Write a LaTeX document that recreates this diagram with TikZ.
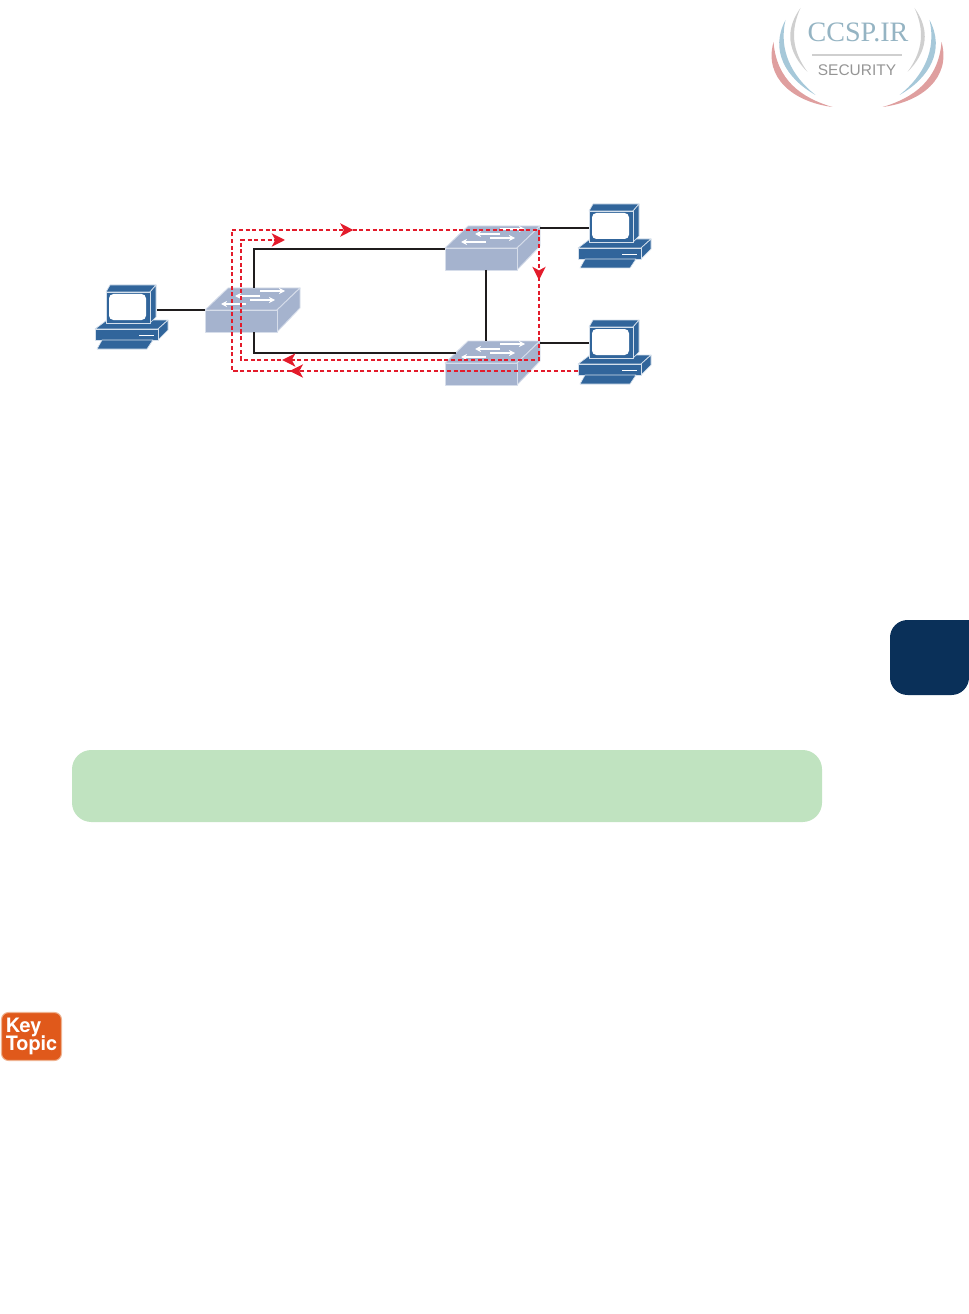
\documentclass[tikz,border=0pt]{standalone}
\usepackage{fontspec}
\setmainfont{Liberation Serif}
\setsansfont{TeX Gyre Heros}
\newfontfamily\logosans{Liberation Sans}
\usetikzlibrary{arrows.meta, decorations.markings}
\definecolor{pcblue}{HTML}{31659B}
\definecolor{pcedge}{HTML}{D5E0EC}
\definecolor{swfill}{HTML}{A5B3CE}
\definecolor{swedge}{HTML}{D6DDEA}
\definecolor{flowred}{HTML}{E31B2B}
\definecolor{linkblk}{HTML}{1F1C1D}
\definecolor{notegreen}{HTML}{C0E3C0}
\definecolor{tabnavy}{HTML}{0A3059}
\definecolor{keyorange}{HTML}{E0591B}
\definecolor{keyedge}{HTML}{EFB391}
\definecolor{logoblue}{HTML}{A6C8D9}
\definecolor{logored}{HTML}{DF9F9F}
\definecolor{logogray}{HTML}{CFCFCF}
\definecolor{logotext}{HTML}{959595}

\tikzset{
  pcshell/.style={fill=pcblue, draw=pcedge, line width=0.4pt, line join=round},
  swshell/.style={fill=swfill, draw=swedge, line width=0.5pt, line join=round},
  swarrow/.style={white, line width=0.7pt, -{Stealth[length=3.5pt, width=3.5pt]}},
  link/.style={linkblk, line width=1.1pt},
  flowline/.style={flowred, line width=1.2pt, dash pattern=on 2.3pt off 1.5pt},
  flowtip/.style={postaction={decorate, decoration={markings, mark=at position #1 with {\arrow{Stealth[length=7.5pt, width=7.5pt, inset=2pt]}}}}},
  pics/pcstation/.style={code={
    % Base and keyboard
    \draw[pcshell] (-11,37) -- (1,28) -- (62,28) -- (52,37) -- cycle;
    \draw[pcshell] (52,37) -- (62,28) -- (62,38) -- (52,48) -- cycle;
    \draw[pcshell] (-11,37) rectangle (52,48);
    \draw[pcshell] (-4,48) -- (47,48) -- (41,57) -- (-9,57) -- cycle;
    \draw[white, line width=0.5pt] (33,43) -- (48,43);
    % Monitor
    \draw[pcshell] (0,0) -- (4,-7) -- (50,-7) -- (44,0) -- cycle;
    \draw[pcshell] (44,0) -- (50,-7) -- (50,25) -- (44,31) -- cycle;
    \draw[pcshell] (0,0) rectangle (44,31);
    \fill[white, rounded corners=2.5pt] (3,2) rectangle (40,28);
    % Anchors
    \coordinate (-w) at (0,18);
    \coordinate (-e) at (51,18);
    \coordinate (-base) at (-11,44);
  }},
  pics/lanswitch/.style={code={
    \draw[swshell] (0,0) -- (23,-22) -- (95,-22) -- (72,0) -- cycle;
    \draw[swshell] (72,0) -- (95,-22) -- (95,-2) -- (72,22) -- cycle;
    \draw[swshell] (0,0) rectangle (72,22);
    \draw[swarrow] (55,-14) -- (30,-14);
    \draw[swarrow] (55,-19) -- (80,-19);
    \draw[swarrow] (41,-6) -- (16,-6);
    \draw[swarrow] (45,-10) -- (70,-10);
    % Anchors
    \coordinate (-w) at (0,1);
    \coordinate (-e) at (95,-20);
    \coordinate (-n) at (41,-22);
    \coordinate (-s) at (41,22);
    \coordinate (-tn) at (49,-22);
    \coordinate (-ts) at (49,22);
    \coordinate (-nw) at (11,-10);
  }},
}

\begin{document}
\begin{tikzpicture}[x=0.02cm, y=-0.02cm]

\useasboundingbox (0,0) rectangle (969,1314);

% Logo
\foreach \side in {1,-1} {
  \begin{scope}[shift={(857.5,0)}, xscale=\side]
    \fill[logogray] (-57,8) .. controls (-73,30) and (-70,52) .. (-50,72) .. controls (-66,50) and (-67,30) .. (-57,8);
    \fill[logoblue] (-72,20) .. controls (-88,50) and (-72,78) .. (-42,95) .. controls (-66,76) and (-79,50) .. (-72,20);
    \fill[logored] (-84,42) .. controls (-94,78) and (-64,102) .. (-25,107) .. controls (-56,98) and (-81,80) .. (-84,42);
  \end{scope}
}
\node[font=\fontsize{16}{17}\selectfont, text=logoblue!90!black, inner sep=0pt] (logoname) at (858,32) {CCSP.IR};
\draw[logogray, line width=1pt] (812,55) -- (902,55);
\node[font=\logosans\fontsize{8.8}{9}\selectfont, text=logotext, inner sep=0pt] (logotag) at (857,70.5) {SECURITY};

% Chapter tab
\fill[tabnavy] (969,620) [rounded corners=10pt] -- (890,620) -- (890,695) -- (969,695) [sharp corners] -- cycle;

% Green band
\fill[notegreen, rounded corners=11pt] (72,750) rectangle (822,822);

% Key Topic badge
\node[fill=keyorange, draw=keyedge, line width=0.6pt, rounded corners=4pt, minimum width=1.2cm, minimum height=0.96cm,
  text=white, align=left, inner sep=0pt, font=\sffamily\bfseries\fontsize{11.3}{10}\selectfont] (keytopic) at (31.5,1036.5) {\raisebox{-1.5pt}{Key}\\[-1.2pt]Topic};

% Switches and PCs
\pic (pcleft) at (106,292) {pcstation};
\pic (pctop) at (589,211) {pcstation};
\pic (pcbot) at (589,327) {pcstation};

% Links sit under the switches
\coordinate (swlturn) at (254,249);
\coordinate (swlback) at (254,353);
\pic (swleft) at (205,310) {lanswitch};
\pic (swtop) at (445,248) {lanswitch};
\pic (swbot) at (445,363) {lanswitch};

\draw[link] (pcleft-e) -- (pcleft-e -| swleft-w);
\draw[link] (swleft-tn) -- (swlturn) -- (swtop-w);
\draw[link] (swleft-ts) -- (swlback) -- (swbot-nw);
\draw[link] (swtop-s) -- (swbot-n);
\draw[link] (swtop-e) -- (swtop-e -| pctop-w);
\draw[link] (swbot-e) -- (swbot-e -| pcbot-w);

% Flooded frame
\coordinate (flowa) at (232,371);
\coordinate (flowb) at (232,230);
\coordinate (flowc) at (539,230);
\coordinate (flowd) at (539,360);
\coordinate (flowe) at (241,360);
\coordinate (flowf) at (241,240);
\coordinate (flowg) at (285,240);
\draw[flowline, flowtip=0.208, flowtip=0.439, flowtip=0.609, flowtip=0.852, -{Stealth[length=7.5pt, width=7.5pt, inset=2pt]}]
  (pcbot-base) -- (flowa) -- (flowb) -- (flowc) -- (flowd) -- (flowe) -- (flowf) -- (flowg);

\end{tikzpicture}
\end{document}
